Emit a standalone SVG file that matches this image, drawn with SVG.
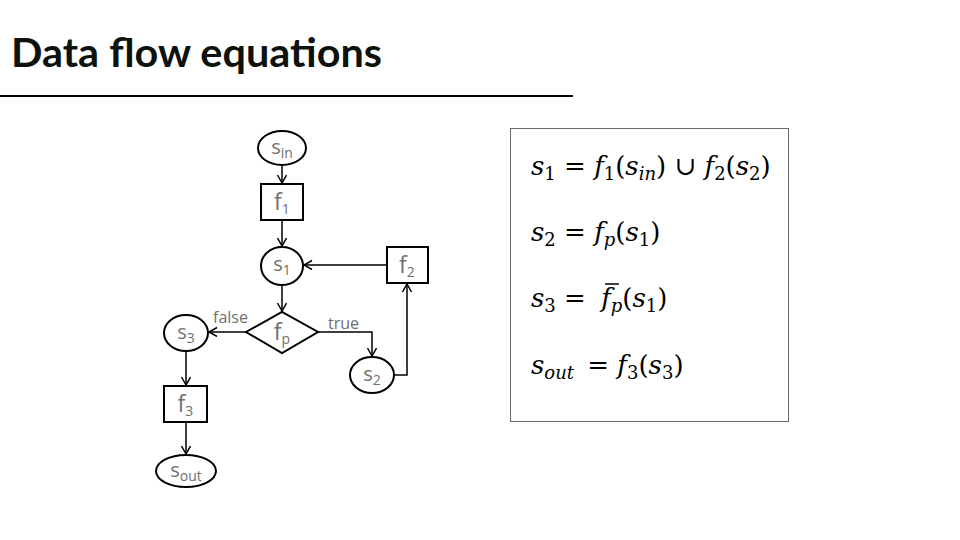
<svg xmlns="http://www.w3.org/2000/svg" width="960" height="540" viewBox="0 0 960 540">
<defs>
<marker id="arr" markerUnits="userSpaceOnUse" markerWidth="12" markerHeight="12" refX="9" refY="5" orient="auto">
<path d="M1,0.5 L9,5 L1,9.5" fill="none" stroke="#000" stroke-width="1.5"/>
</marker>
</defs>
<style>
.shape{fill:#fff;stroke:#000;stroke-width:2}
.conn{fill:none;stroke:#000;stroke-width:1.5;marker-end:url(#arr)}
.nt{font-family:"Open Sans","Noto Sans",sans-serif;fill:#707070;font-size:20px;text-anchor:middle}
.ft{font-size:23px}
.sub{font-size:14px}
.lbl{font-family:"Open Sans","Noto Sans",sans-serif;fill:#6f6f6f;font-size:16px}
.eq{font-family:"DejaVu Serif","Liberation Serif",serif;font-size:26px;fill:#000}
.it{font-style:italic}
.es{font-size:18px}
.title{font-family:Lato,"Open Sans",sans-serif;font-weight:bold;font-size:40px;fill:#0d120d}
</style>
<rect width="960" height="540" fill="#fff"/>
<text class="title" x="11" y="67" textLength="371" lengthAdjust="spacingAndGlyphs">Data flow equations</text>
<line x1="0" y1="96" x2="573" y2="96" stroke="#000" stroke-width="2"/>

<g id="connectors">
<path class="conn" d="M282,165 V183"/>
<path class="conn" d="M282,220 V246"/>
<path class="conn" d="M387,265 H304"/>
<path class="conn" d="M282,285 V311"/>
<path class="conn" d="M246,332 H209"/>
<path class="conn" d="M318,332 H372 V356"/>
<path class="conn" d="M394,375 H407 V284"/>
<path class="conn" d="M186,351 V385"/>
<path class="conn" d="M186,422 V454"/>
<text class="lbl" x="213" y="323">false</text>
<text class="lbl" x="328" y="329">true</text>
</g>

<g id="s_in"><ellipse class="shape" cx="282" cy="148" rx="24" ry="17"/><text class="nt" x="282" y="154">s<tspan class="sub" dy="4">in</tspan></text></g>
<g id="f1"><rect class="shape" x="261" y="184" width="42" height="36"/><text class="nt ft" x="282" y="210">f<tspan class="sub" dy="4">1</tspan></text></g>
<g id="s1"><ellipse class="shape" cx="282" cy="266" rx="21" ry="19"/><text class="nt" x="282" y="271">s<tspan class="sub" dy="4">1</tspan></text></g>
<g id="f2"><rect class="shape" x="387" y="247" width="41" height="36"/><text class="nt ft" x="407" y="273">f<tspan class="sub" dy="4">2</tspan></text></g>
<g id="fp"><polygon class="shape" points="246,332 282,312 318,332 282,353"/><text class="nt ft" x="282" y="340">f<tspan class="sub" dy="4">p</tspan></text></g>
<g id="s3"><ellipse class="shape" cx="186" cy="333" rx="22" ry="18"/><text class="nt" x="186" y="339">s<tspan class="sub" dy="4">3</tspan></text></g>
<g id="s2"><ellipse class="shape" cx="372" cy="375" rx="22" ry="18"/><text class="nt" x="372" y="381">s<tspan class="sub" dy="4">2</tspan></text></g>
<g id="f3"><rect class="shape" x="164" y="386" width="43" height="36"/><text class="nt ft" x="185.5" y="412">f<tspan class="sub" dy="4">3</tspan></text></g>
<g id="s_out"><ellipse class="shape" cx="186" cy="471" rx="30" ry="16"/><text class="nt" x="186" y="477">s<tspan class="sub" dy="4">out</tspan></text></g>

<g id="equations">
<rect x="510.5" y="128.5" width="278" height="293" fill="none" stroke="#6a6a6a" stroke-width="1"/>
<text class="eq" x="531" y="175"><tspan class="it">s</tspan><tspan class="es" dy="5">1</tspan><tspan dy="-5"> = </tspan><tspan class="it">f</tspan><tspan class="es" dy="5">1</tspan><tspan dy="-5">(</tspan><tspan class="it">s</tspan><tspan class="es it" dy="5">in</tspan><tspan dy="-5">) ∪ </tspan><tspan class="it">f</tspan><tspan class="es" dy="5">2</tspan><tspan dy="-5">(</tspan><tspan class="it">s</tspan><tspan class="es" dy="5">2</tspan><tspan dy="-5">)</tspan></text>
<text class="eq" x="531" y="241"><tspan class="it">s</tspan><tspan class="es" dy="5">2</tspan><tspan dy="-5"> = </tspan><tspan class="it">f</tspan><tspan class="es it" dy="5">p</tspan><tspan dy="-5">(</tspan><tspan class="it">s</tspan><tspan class="es" dy="5">1</tspan><tspan dy="-5">)</tspan></text>
<text class="eq" x="531" y="307"><tspan class="it">s</tspan><tspan class="es" dy="5">3</tspan><tspan dy="-5"> = </tspan><tspan class="it" dx="7">f</tspan><tspan class="es it" dy="5">p</tspan><tspan dy="-5">(</tspan><tspan class="it">s</tspan><tspan class="es" dy="5">1</tspan><tspan dy="-5">)</tspan></text>
<line x1="605" y1="284" x2="619" y2="284" stroke="#000" stroke-width="1.5"/>
<text class="eq" x="531" y="374"><tspan class="it">s</tspan><tspan class="es it" dy="5">out</tspan><tspan dy="-5" dx="5"> = </tspan><tspan class="it">f</tspan><tspan class="es" dy="5">3</tspan><tspan dy="-5">(</tspan><tspan class="it">s</tspan><tspan class="es" dy="5">3</tspan><tspan dy="-5">)</tspan></text>
</g>
</svg>
